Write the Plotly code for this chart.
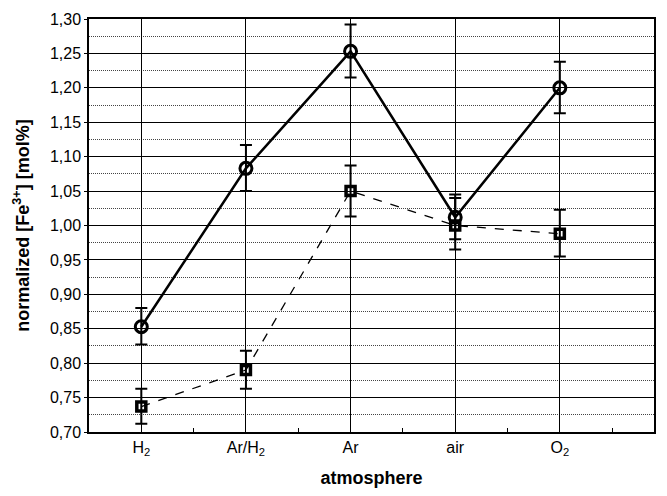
import plotly.graph_objects as go

categories = ["H<sub>2</sub>", "Ar/H<sub>2</sub>", "Ar", "air", "O<sub>2</sub>"]
circle_vals = [0.853, 1.083, 1.253, 1.012, 1.200]
circle_err_plus = [0.027, 0.034, 0.039, 0.033, 0.038]
circle_err_minus = [0.026, 0.033, 0.038, 0.032, 0.037]
square_vals = [0.737, 0.790, 1.050, 1.000, 0.988]
square_err_plus = [0.026, 0.028, 0.037, 0.040, 0.035]
square_err_minus = [0.025, 0.027, 0.037, 0.035, 0.033]
y_ticks = [0.70, 0.75, 0.80, 0.85, 0.90, 0.95, 1.00, 1.05, 1.10, 1.15, 1.20, 1.25, 1.30]

xpos = list(range(len(categories)))

fig = go.Figure()
fig.add_trace(go.Scatter(
    x=xpos, y=square_vals, mode="lines+markers",
    line=dict(color="black", width=1.3, dash="dash"),
    marker=dict(symbol="square-open", size=9, color="black", line=dict(width=3.5, color="black")),
    error_y=dict(type="data", symmetric=False, array=square_err_plus, arrayminus=square_err_minus,
                 color="black", thickness=2, width=6),
    showlegend=False))
fig.add_trace(go.Scatter(
    x=xpos, y=circle_vals, mode="lines+markers",
    line=dict(color="black", width=2.5),
    marker=dict(symbol="circle-open", size=12, color="black", line=dict(width=3, color="black")),
    error_y=dict(type="data", symmetric=False, array=circle_err_plus, arrayminus=circle_err_minus,
                 color="black", thickness=2, width=6),
    showlegend=False))

fig.update_layout(
    width=667, height=496,
    margin=dict(l=89, r=11, t=15, b=62),
    plot_bgcolor="white", paper_bgcolor="white",
    separators=",.",
    font=dict(family="Liberation Sans, Arial, sans-serif", color="black", size=16),
    xaxis=dict(
        range=[-0.5, 4.9], tickvals=xpos, ticktext=categories,
        showgrid=True, gridcolor="black", gridwidth=1.3,
        showline=True, linecolor="black", linewidth=1.5, mirror=True,
        ticks="", zeroline=False,
        minor=dict(tickvals=[0.5, 1.5, 2.5, 3.5, 4.5], ticks="inside", ticklen=4, tickcolor="black", showgrid=False),
        title=dict(text="<b>atmosphere</b>", font=dict(size=18), standoff=14),
        tickfont=dict(size=16),
    ),
    yaxis=dict(
        range=[0.70, 1.30], tickvals=y_ticks, tickformat=".2f",
        showgrid=True, gridcolor="black", gridwidth=1.3,
        showline=True, linecolor="black", linewidth=1.5, mirror=True,
        ticks="outside", ticklen=3, tickcolor="black", zeroline=False,
        minor=dict(dtick=0.025, tick0=0.7, showgrid=True, griddash="1px,1px", gridcolor="#444", gridwidth=1),
        title=dict(text="<b>normalized [Fe<sup>3+</sup>] [mol%]</b>", font=dict(size=18), standoff=16),
        tickfont=dict(size=16),
    ),
)

fig.write_html("out.html")
